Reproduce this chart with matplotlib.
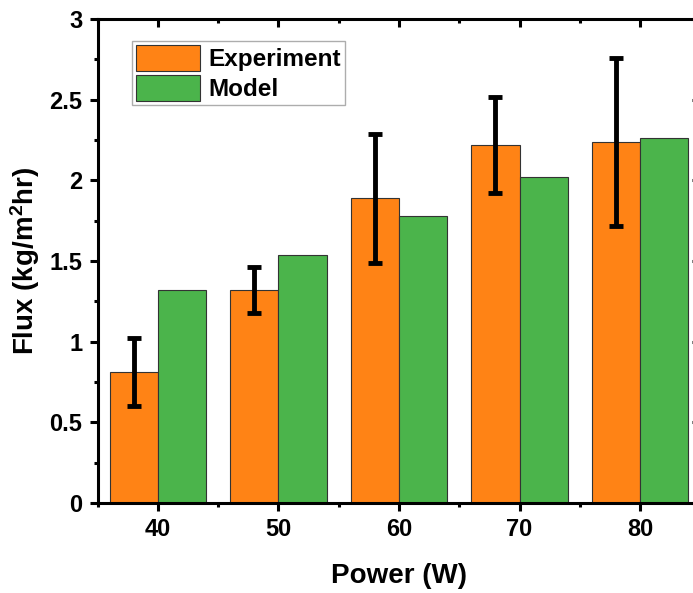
import matplotlib
matplotlib.use("Agg")
import matplotlib.pyplot as plt
from matplotlib.ticker import MultipleLocator, FuncFormatter
import numpy as np

plt.rcParams['font.family'] = ['Liberation Sans', 'DejaVu Sans']
plt.rcParams['font.weight'] = 'bold'
plt.rcParams['mathtext.fontset'] = 'custom'
plt.rcParams['mathtext.rm'] = 'Liberation Sans:bold'
plt.rcParams['mathtext.bf'] = 'Liberation Sans:bold'
plt.rcParams['mathtext.default'] = 'bf'

power = [40, 50, 60, 70, 80]
experiment = [0.81, 1.32, 1.89, 2.22, 2.24]
experiment_err = [0.21, 0.14, 0.40, 0.30, 0.52]
model = [1.32, 1.54, 1.78, 2.02, 2.26]

orange = '#FF8315'
green = '#4BB44B'

rect = [0.1407, 0.1518, 0.870, 0.816]
fig = plt.figure(figsize=(6.93, 5.93), dpi=100)
ax = fig.add_axes(rect)

x = np.array(power, dtype=float)
w = 4.0
ax.bar(x - w/2, experiment, width=w, color=orange, edgecolor='#333333', linewidth=0.8,
       label='Experiment', zorder=2)
ax.bar(x + w/2, model, width=w, color=green, edgecolor='#333333', linewidth=0.8,
       label='Model', zorder=2)
ax.errorbar(x - w/2, experiment, yerr=experiment_err, fmt='none', ecolor='black',
            elinewidth=3.5, capsize=5, capthick=3.5, zorder=3)

xlim = (35, 85)
ylim = (0, 3)
ax.set_xlim(*xlim)
ax.set_ylim(*ylim)
ax.set_xticks(power)
ax.xaxis.set_minor_locator(MultipleLocator(5))
ax.yaxis.set_major_locator(MultipleLocator(0.5))
ax.yaxis.set_minor_locator(MultipleLocator(0.25))
ax.yaxis.set_major_formatter(FuncFormatter(lambda v, p: ('%g' % v)))

for s in ax.spines.values():
    s.set_linewidth(2.2)

ax.tick_params(axis='both', which='major', direction='out', length=6, width=2.2,
               labelsize=17, pad=5, top=False, right=False)
ax.tick_params(axis='both', which='minor', direction='out', length=3, width=2.2,
               top=False, right=False)

# overlay axes for inward top/right ticks
ov = fig.add_axes(rect, label='overlay', zorder=5)
ov.patch.set_visible(False)
ov.set_xlim(*xlim)
ov.set_ylim(*ylim)
ov.set_xticks(power)
ov.xaxis.set_minor_locator(MultipleLocator(5))
ov.yaxis.set_major_locator(MultipleLocator(0.5))
ov.yaxis.set_minor_locator(MultipleLocator(0.25))
ov.xaxis.set_ticks_position('top')
ov.yaxis.set_ticks_position('right')
ov.tick_params(which='major', direction='in', length=6, width=2.2,
               labeltop=False, labelright=False, labelbottom=False, labelleft=False)
ov.tick_params(which='minor', direction='in', length=3, width=2.2)
for s in ov.spines.values():
    s.set_visible(False)

for lab in ax.get_xticklabels() + ax.get_yticklabels():
    lab.set_fontweight('bold')

ax.set_xlabel('Power (W)', fontsize=20, fontweight='bold', labelpad=16)
ax.set_ylabel(r'Flux (kg/m$^{2}$hr)', fontsize=20, fontweight='bold', labelpad=5)

leg = ov.legend(*ax.get_legend_handles_labels(), loc='upper left',
                bbox_to_anchor=(0.058, 0.955), fontsize=17.5,
                frameon=True, fancybox=False, edgecolor='#999999',
                handlelength=2.6, handleheight=1.28, labelspacing=0.15,
                handletextpad=0.37, borderpad=0.16, borderaxespad=0)
leg.get_frame().set_linewidth(1.0)
for t in leg.get_texts():
    t.set_fontweight('bold')

fig.savefig('out.png', dpi=100)
